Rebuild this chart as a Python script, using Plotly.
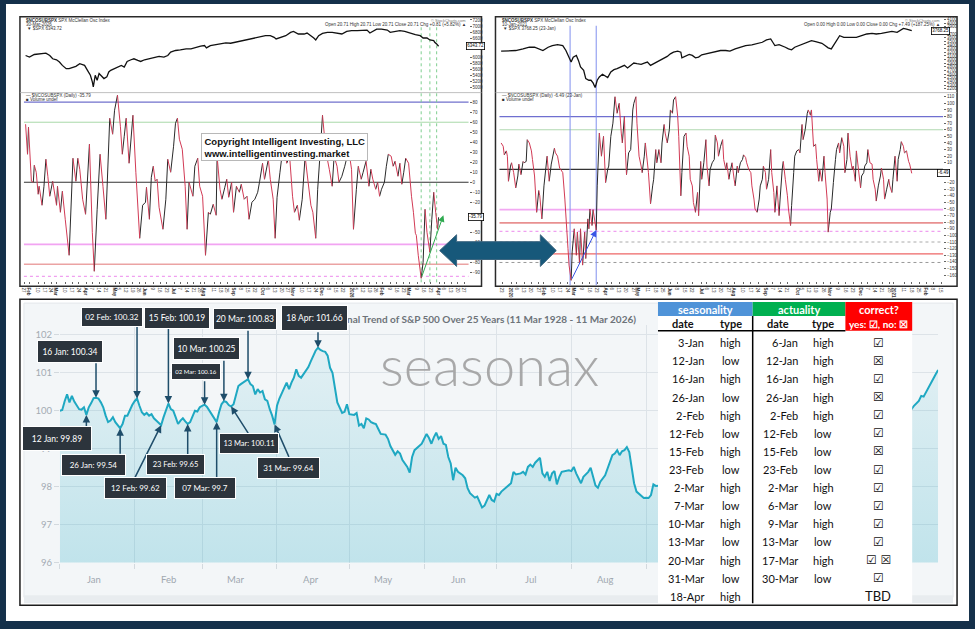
import plotly.graph_objects as go
import pandas as pd

W, H = 975, 629
def px(x): return x / W
def py(y): return 1 - y / H

# ======================= DATA =======================
# --- Left StockCharts panel: SPX (top) and McClellan oscillator (bottom), days since base date
left_base = "2025-01-28"
left_price_day = [0,4,9,14,21,25,28,32,35,38, 42,45,49,52,56,61,64,67,69,70,
                  72,74,76,79,81,84,86,88,92,95, 99,102,105,109,112,116,119,123,128,133,
                  138,143,147,150,155,160,166,171,176,181, 185,187,191,197,202,207,212,217,222,227,
                  233,238,243,248,253,257,259,264,269,274, 277,282,288,291,295,298,300,303,307,312,
                  317,322,327,332,337,343,348,353,356,360, 363,368,374,377,382,387,392,398,403,408,
                  411,415,418,422,423,425,427]
left_price = [6050,5997,6082,6104,6125,6050,5943,5911,5836,5729, 5622,5622,5676,5697,5783,5729,5569,5408,5194,5034,
              5408,5248,5462,5376,5301,5355,5515,5569,5622,5676, 5729,5676,5857,5911,5943,5890,5857,5911,5943,5964,
              6018,5997,6050,6157,6211,6232,6264,6264,6318,6350, 6371,6296,6371,6403,6425,6457,6446,6478,6510,6553,
              6585,6617,6639,6692,6692,6639,6585,6639,6692,6799, 6831,6746,6746,6778,6692,6617,6553,6692,6767,6799,
              6799,6778,6746,6831,6853,6853,6874,6874,6778,6853, 6906,6906,6874,6799,6831,6853,6831,6767,6724,6692,
              6617,6617,6553,6532,6478,6425,6350]
left_osc_day = [0,2,3,6,8,9,11,13,14,17, 19,21,23,25,28,32,33,36,38,41,
                45,49,52,54,56,59,62,66,69,71, 74,77,80,83,87,90,92,95,98,100,
                102,104,107,111,114,118,121,124,125,128, 130,132,134,136,138,142,145,147,150,153,
                155,157,159,162,165,167,169,173,175,178, 180,183,186,189,191,194,197,198,201,203,
                206,208,210,213,215,218,221,223,226,229, 231,234,237,240,242,245,247,251,253,256,
                258,260,263,265,268,270,273,276,278,281, 283,286,289,292,295,297,300,302,305,307,
                309,312,314,317,319,322,324,327,330,332, 334,337,339,342,344,347,349,352,355,357,
                359,362,364,366,368,371,373,375,378,380, 382,385,387,389,391,393,396,399,401,403,
                404,406,409,411,413,415,418,420,422,424, 426,427]
left_osc = [58,28,55,1,0,17,10,-12,-4,-23, -4,23,6,-14,1,-23,-4,-30,-9,-37,
            -73,24,1,24,13,-17,-32,38,-50,-89, -27,28,-4,-37,64,48,72,87,56,28,
            46,64,19,67,10,-56,-23,-20,-5,-37, 5,16,1,3,-25,-47,-17,23,10,36,
            59,64,43,33,-4,-47,0,-14,16,24, -4,-14,-73,-30,-32,-22,-33,26,-7,-17,
            -5,3,-15,0,-30,-4,-10,-2,-17,-14, -37,-20,-17,-10,1,19,3,23,3,-17,
            -56,-15,10,26,33,19,26,-14,-30,-23, -38,-17,26,1,-23,-30,-56,-7,36,67,
            46,23,13,-4,26,16,0,6,16,24, 33,13,-47,-7,16,3,10,21,-4,13,
            3,-7,0,-14,-7,0,16,28,26,16, 21,6,19,-2,10,24,19,-14,-30,-51,
            -53,-73,-96,-80,-27,-50,-70,-37,-10,-30, -47,-35]
left_levels = [80, 60, 0, -62, -82, -94]
left_marker_day = [409, 418, 425]
left_trend_day = [409, 432]
left_trend_val = [-96, -33]

# --- Right StockCharts panel (2020)
right_base = "2019-12-22"
right_price_day = [0,8,14,21,27,32,37,40,45,49, 54,59,62,65,67,69,72,74,76,79,
                   81,84,86,88,90,92,94,97,100,102, 105,108,111,115,118,121,124,127,130,134,
                   137,140,143,146,149,153,156,159,162,165, 169,172,173,177,180,183,186,189,192,196,
                   200,205,210,215,219,224,229,234,240,245, 250,254,258,260,262,266,269,272,275,278,
                   281,285,289,294,297,301,304,307,310,313, 316,318,321,324,328,331,336,340,345,350,
                   355,359,364,369,374,379,382,385,388,391, 393]
right_price = [3230,3248,3248,3293,3338,3338,3293,3248,3338,3384, 3411,3384,3248,3067,2932,3067,3113,2977,2797,2706,
               2480,2435,2435,2363,2237,2435,2526,2598,2544,2508, 2661,2724,2751,2797,2842,2769,2842,2905,2887,2869,
               2905,2932,2842,2887,2932,2977,3022,3086,3158,3203, 3230,3203,3049,3113,3140,3113,3049,3067,3131,3158,
               3185,3203,3248,3248,3230,3293,3338,3384,3402,3447, 3474,3537,3564,3474,3384,3411,3384,3338,3293,3266,
               3338,3384,3429,3474,3519,3492,3474,3447,3384,3320, 3293,3384,3519,3654,3609,3609,3591,3609,3654,3700,
               3718,3700,3718,3745,3772,3745,3808,3853,3835,3808, 3790]
right_osc_day = [0,2,3,5,6,7,9,10,12,14, 16,17,19,21,22,24,25,27,29,30,
                 32,34,36,37,39,41,44,46,48,51, 52,54,56,57,59,61,64,65,67,68,
                 70,72,73,75,76,78,80,81,83,84, 85,87,88,91,92,94,96,98,100,102,
                 103,105,107,109,111,113,115,116,118,119, 120,122,124,126,127,129,130,132,134,135,
                 137,138,141,143,145,146,148,149,151,153, 154,156,157,159,161,162,164,165,167,169,
                 170,172,173,175,177,178,180,181,183,184, 186,188,189,191,192,194,196,197,199,200,
                 202,204,205,207,208,210,212,213,215,216, 218,219,221,223,224,226,227,229,231,232,
                 234,235,237,239,240,242,243,245,247,248, 250,251,253,254,256,258,259,261,262,264,
                 266,267,269,270,272,274,275,277,278,280, 281,283,285,286,288,289,291,293,294,296,
                 297,299,301,302,304,305,307,309,310,312, 313,315,316,318,320,321,323,324,326,328,
                 329,331,332,334,336,337,339,340,342,344, 345,347,348,350,351,353,355,356,358,359,
                 361,363,364,366,367,369,371,372,374,375, 377,379,380,382,383,385,386,388,390,391,
                 393]
right_osc = [40,35,22,28,20,-18,5,10,-5,-28, -10,8,-8,12,10,12,45,40,28,15,
             -10,-65,-32,-40,-75,-25,20,-18,8,32, 25,20,2,0,-5,-45,-120,-145,-168,-125,
             -90,-130,-95,-142,-90,-145,-95,-135,-75,-90, -60,-85,-61,-92,-25,55,20,50,-20,0,
             5,50,70,110,85,100,55,40,80,25, -8,25,30,90,100,110,70,20,5,-5,
             20,40,-5,-52,-25,-15,30,10,30,10, 40,68,55,40,60,90,85,105,110,80,
             50,-40,-5,50,55,35,20,-15,-25,-50, -65,-35,-70,12,-15,10,45,5,-25,0,
             10,15,52,40,20,35,45,15,0,10, -15,-5,10,-15,-25,5,-5,10,15,22,
             18,10,0,-5,-25,-45,-60,-65,-45,-25, -15,5,-5,-30,-15,30,-5,-35,-65,-25,
             -70,-45,0,12,-15,-40,-60,-85,-55,-5, 20,28,30,25,68,45,60,85,90,82,
             90,35,38,15,-18,0,-18,20,-5,-45, -95,-65,-60,-20,15,30,40,25,48,35,
             -5,15,55,20,0,5,-18,28,0,-28, -10,-5,5,10,30,10,8,-15,-30,-48,
             -25,-10,2,-15,-45,-30,-15,-25,-35,-15, 20,-18,15,30,42,35,25,28,12,8,
             -6]
right_levels = [80, 60, 0, -61, -81, -94, -110, -128, -141]
right_marker_day = [66, 91]
right_trend_day = [67, 91]
right_trend_val = [-168, -92]

# --- Seasonax: seasonal trend of S&P 500 (indexed to 100)
seas_md = ["01-01","01-02","01-03","01-04","01-05","01-06","01-07","01-08","01-09","01-10",
           "01-11","01-12","01-13","01-14","01-15","01-16","01-17","01-18","01-19","01-20",
           "01-21","01-22","01-23","01-24","01-25","01-26","01-27","01-28","01-29","01-30",
           "01-31","02-01","02-02","02-03","02-04","02-05","02-06","02-07","02-08","02-09",
           "02-10","02-11","02-12","02-13","02-14","02-15","02-16","02-17","02-18","02-19",
           "02-20","02-21","02-22","02-23","02-24","02-25","02-26","02-27","02-28","03-01",
           "03-02","03-03","03-04","03-05","03-06","03-07","03-08","03-09","03-10","03-11",
           "03-12","03-13","03-14","03-15","03-16","03-17","03-18","03-19","03-20","03-21",
           "03-22","03-23","03-24","03-25","03-26","03-27","03-28","03-29","03-30","03-31",
           "04-01","04-02","04-03","04-04","04-05","04-06","04-07","04-08","04-09","04-10",
           "04-11","04-12","04-13","04-14","04-15","04-16","04-17","04-18","04-19","04-20",
           "04-21","04-22","04-23","04-24","04-25","04-26","04-28","04-29","04-30","05-01",
           "05-03","05-04","05-05","05-06","05-07","05-08","05-09","05-10","05-11","05-12",
           "05-13","05-14","05-16","05-17","05-18","05-20","05-21","05-22","05-23","05-25",
           "05-26","05-27","05-28","05-30","05-31","06-01","06-02","06-03","06-04","06-05",
           "06-06","06-07","06-08","06-09","06-10","06-11","06-12","06-13","06-14","06-15",
           "06-17","06-18","06-19","06-20","06-22","06-23","06-24","06-25","06-26","06-27",
           "06-28","06-29","06-30","07-01","07-02","07-03","07-04","07-06","07-07","07-08",
           "07-09","07-11","07-12","07-13","07-14","07-15","07-16","07-17","07-19","07-20",
           "07-21","07-22","07-23","07-24","07-25","07-26","07-27","07-28","07-30","07-31",
           "08-01","08-02","08-03","08-05","08-06","08-08","08-09","08-10","08-11","08-12",
           "08-13","08-15","08-16","08-17","08-18","08-19","08-20","08-21","08-22","08-23",
           "08-24","08-25","08-26","08-27","08-28","08-30","08-31","09-01","09-02","09-03",
           "09-04","09-05","09-07","09-12","09-17","09-22","09-27","10-02","10-08","10-13",
           "10-18","10-23","10-28","11-02","11-07","11-12","11-17","11-22","11-27","12-02",
           "12-07","12-12","12-17","12-20","12-21","12-23","12-24","12-25","12-26","12-28",
           "12-29","12-30","12-31"]
seas_val = [100.00,100.02,100.25,100.43,100.22,100.39,100.24,100.12,100.04,100.03,
            100.09,99.89,100.09,100.20,100.33,100.34,100.32,100.22,100.09,99.87,
            99.70,99.74,99.83,99.70,99.62,99.54,99.65,99.87,99.87,100.02,
            100.15,100.25,100.32,100.13,99.96,99.89,99.94,99.87,99.91,99.80,
            99.74,99.68,99.62,99.83,100.00,100.19,100.04,100.00,99.83,99.65,
            99.74,99.80,99.72,99.65,99.70,99.87,100.00,99.98,100.09,100.13,
            100.16,100.10,100.00,99.91,99.80,99.70,99.96,100.17,100.25,100.23,
            100.15,100.11,100.17,100.43,100.65,100.70,100.74,100.78,100.83,100.70,
            100.65,100.43,100.57,100.48,100.52,100.30,100.26,100.04,99.87,99.64,
            100.13,100.32,100.48,100.60,100.74,100.57,100.74,100.87,101.09,100.92,
            100.87,100.96,101.04,101.15,101.30,101.45,101.58,101.66,101.60,101.57,
            101.55,101.45,101.13,101.00,100.65,100.22,99.94,99.97,100.17,99.91,
            99.89,99.94,99.61,99.65,99.54,99.80,99.77,99.70,99.67,99.65,
            99.52,99.39,99.37,99.26,99.07,98.84,98.93,98.87,98.70,98.52,
            98.37,98.78,98.96,99.09,99.13,99.26,99.39,99.28,99.13,99.30,
            99.42,99.26,99.33,99.13,99.10,98.78,98.61,98.17,98.50,98.39,
            98.30,98.22,97.96,97.83,97.71,97.74,97.58,97.45,97.50,97.65,
            97.78,97.65,97.61,97.81,97.78,97.87,97.93,98.04,98.09,98.39,
            98.32,98.35,98.39,98.32,98.52,98.58,98.52,98.63,98.76,98.35,
            98.26,98.39,98.15,98.35,98.41,98.06,98.26,98.39,98.41,98.43,
            98.41,98.52,98.35,98.09,98.26,98.39,98.50,98.26,98.03,97.97,
            98.13,98.30,98.48,98.70,98.83,98.87,98.96,98.83,98.93,98.96,
            99.04,98.91,98.52,98.09,97.87,97.74,97.70,97.71,97.70,97.78,
            98.06,98.02,98.03,97.85,97.55,97.30,97.15,97.35,97.60,97.25,
            97.50,97.85,97.65,98.05,98.50,98.85,99.10,99.05,99.40,99.55,
            99.70,99.62,99.85,100.04,100.13,100.26,100.39,100.37,100.48,100.70,
            100.84,100.96,101.07]
seas_month_labels = ["Jan", "Feb", "Mar", "Apr", "May", "Jun", "Jul", "Aug"]
callout_md = ["01-16","02-02","02-15","03-20","04-18","03-10","03-02",
              "01-12","01-26","02-12","02-23","03-07","03-13","03-31"]
callout_val = [100.34,100.32,100.19,100.83,101.66,100.25,100.16,
               99.89,99.54,99.62,99.65,99.7,100.11,99.64]

# --- Table
tbl_seas_date = ["3-Jan","12-Jan","16-Jan","26-Jan","2-Feb","12-Feb","15-Feb","23-Feb",
                 "2-Mar","7-Mar","10-Mar","13-Mar","20-Mar","31-Mar","18-Apr"]
tbl_seas_type = ["high","low","high","low","high","low","high","low",
                 "high","low","high","low","high","low","high"]
tbl_act_date = ["6-Jan","12-Jan","16-Jan","26-Jan","2-Feb","12-Feb","15-Feb","23-Feb",
                "2-Mar","6-Mar","9-Mar","13-Mar","17-Mar","30-Mar",""]
tbl_act_type = ["high","high","high","high","high","low","low","low",
                "high","low","high","low","high","low",""]
tbl_correct = ["☑","☒","☑","☒","☑","☑","☒","☑","☑","☑","☑","☑","☑ ☒","☑","TBD"]

# ======================= BUILD =======================
def to_dates(base, days):
    return list(pd.Timestamp(base) + pd.to_timedelta(days, unit="D"))

def split_updown(xs, ys):
    ux, uy, dx, dy = [], [], [], []
    for i in range(len(xs) - 1):
        if ys[i + 1] >= ys[i]:
            ux += [xs[i], xs[i + 1], None]; uy += [ys[i], ys[i + 1], None]
        else:
            dx += [xs[i], xs[i + 1], None]; dy += [ys[i], ys[i + 1], None]
    return ux, uy, dx, dy

fig = go.Figure()

OSC_UP, OSC_DN = "#2a2a2a", "#d23a55"
for side, base, pd_, pv, od, ov, xa, ya, xa2, ya2 in [
    ("L", left_base, left_price_day, left_price, left_osc_day, left_osc, "x", "y", "x2", "y2"),
    ("R", right_base, right_price_day, right_price, right_osc_day, right_osc, "x3", "y3", "x4", "y4")]:
    fig.add_trace(go.Scatter(x=to_dates(base, pd_), y=pv, mode="lines",
                             line=dict(color="#111111", width=1.3), xaxis=xa, yaxis=ya,
                             hoverinfo="skip"))
    ux, uy, dx, dy = split_updown(to_dates(base, od), ov)
    fig.add_trace(go.Scatter(x=ux, y=uy, mode="lines", line=dict(color=OSC_UP, width=1),
                             xaxis=xa2, yaxis=ya2, hoverinfo="skip"))
    fig.add_trace(go.Scatter(x=dx, y=dy, mode="lines", line=dict(color=OSC_DN, width=1),
                             xaxis=xa2, yaxis=ya2, hoverinfo="skip"))

seas_dates = pd.to_datetime(["2026-" + m for m in seas_md])
fig.add_trace(go.Scatter(
    x=seas_dates, y=seas_val, mode="lines", xaxis="x5", yaxis="y5",
    line=dict(color="#1fa8c2", width=2), fill="tozeroy",
    fillgradient=dict(type="vertical", start=96, stop=102,
                      colorscale=[[0, "rgba(31,168,194,0.24)"], [1, "rgba(31,168,194,0.07)"]]),
    hoverinfo="skip"))

# ---- tick helpers for StockCharts axes
def stock_ticks(start, end):
    vals, txt = [], []
    months = pd.date_range(start, end, freq="MS")
    for m in months:
        vals.append(m); txt.append("<b>%s</b>" % (m.strftime("%Y") if m.month == 1 else m.strftime("%b")))
    for d in pd.date_range(start, end, freq="W-MON"):
        if min(abs((d - m).days) for m in months) >= 4:
            vals.append(d); txt.append(str(d.day))
    return vals, txt

def value_ticks(rng, step, tag_value, gap):
    """Tick values across the range, leaving room for the last-value tag."""
    lo = int(rng[0] // step + 1) * step
    out, v = [], lo
    while v <= rng[1]:
        if abs(v - tag_value) > gap:
            out.append(v)
        v += step
    return out

L_XR = [pd.Timestamp("2025-01-26 07:00"), pd.Timestamp("2026-05-01")]
R_XR = [pd.Timestamp("2019-12-20 10:00"), pd.Timestamp("2021-02-17")]
ltv, ltt = stock_ticks("2025-01-27", "2026-04-30")
rtv, rtt = stock_ticks("2019-12-21", "2021-02-16")

L_PR, L_OR = [4862, 7270], [-99, 89.1]
R_PR, R_OR = [2110, 4142], [-169.5, 115.5]

small = dict(family="Liberation Sans", size=4.5, color="#333")
def yax_small(dom, rng, anchor, tickvals):
    return dict(domain=dom, range=rng, anchor=anchor, side="right", tickmode="array",
                tickvals=tickvals, tickfont=small, ticks="outside", ticklen=2, tickcolor="#666",
                showgrid=False, zeroline=False, showline=False, fixedrange=True)
def xax_small(dom, rng, anchor, tv=None, tt=None, visible=True):
    d = dict(domain=dom, range=rng, anchor=anchor, type="date", showgrid=False,
             zeroline=False, showline=False, visible=visible, tickfont=small,
             ticks="outside", ticklen=2, tickcolor="#666")
    if tv is not None:
        d.update(tickmode="array", tickvals=tv, ticktext=tt)
    return d

LX = [px(21), px(467)]
RX = [px(498), px(943)]
PRICE_Y = [py(92), py(17)]
OSC_Y = [py(283), py(93)]

fig.update_layout(
    width=W, height=H, autosize=False, margin=dict(l=0, r=0, t=0, b=0),
    paper_bgcolor="#14304a", plot_bgcolor="rgba(0,0,0,0)", showlegend=False,
    xaxis=xax_small(LX, L_XR, "y", visible=False),
    yaxis=yax_small(PRICE_Y, L_PR, "x", value_ticks(L_PR, 200, left_price[-1], 190)),
    xaxis2=xax_small(LX, L_XR, "y2", ltv, ltt),
    yaxis2=yax_small(OSC_Y, L_OR, "x2", value_ticks(L_OR, 10, left_osc[-1], 6)),
    xaxis3=xax_small(RX, R_XR, "y3", visible=False),
    yaxis3=yax_small(PRICE_Y, R_PR, "x3", value_ticks(R_PR, 100, right_price[-1], 80)),
    xaxis4=xax_small(RX, R_XR, "y4", rtv, rtt),
    yaxis4=yax_small(OSC_Y, R_OR, "x4", value_ticks(R_OR, 10, right_osc[-1], 8)),
    xaxis5=dict(domain=[px(57), px(938)], anchor="y5", type="date",
                range=["2026-01-01", "2026-12-31"], dtick="M1", tick0="2026-01-01",
                showticklabels=False, showgrid=True, gridcolor="#dde3e8",
                gridwidth=1, ticks="outside", ticklen=5, tickcolor="#d3d9de",
                zeroline=False, showline=False),
    yaxis5=dict(domain=[py(567), py(327.4)], anchor="x5", range=[96, 102.25],
                tickvals=[96, 97, 98, 99, 100, 101, 102], showgrid=True, gridcolor="#dde3e8",
                ticks="outside", ticklen=5, tickcolor="#d3d9de", zeroline=False,
                tickfont=dict(family="Lato", size=9.5, color="#a3abb3")),
)

# ======================= SHAPES =======================
shapes = []
def rect(x0, y0, x1, y1, fill, line=None, lw=0, layer="below"):
    shapes.append(dict(type="rect", xref="paper", yref="paper", x0=px(x0), x1=px(x1),
                       y0=py(y1), y1=py(y0), fillcolor=fill, layer=layer,
                       line=dict(color=line or fill, width=lw)))
def seg(x0, y0, x1, y1, color, w=1, dash="solid", layer="below"):
    shapes.append(dict(type="line", xref="paper", yref="paper", x0=px(x0), x1=px(x1),
                       y0=py(y0), y1=py(y1), layer=layer, line=dict(color=color, width=w, dash=dash)))

rect(3, 3, 969, 626, "#ffffff")
rect(17, 16, 480, 288, "#ffffff", "#2a2a2a", 1.5)
rect(494, 16, 957, 288, "#ffffff", "#2a2a2a", 1.5)
seg(17, 92.5, 480, 92.5, "#b0b0b0", 0.8)
seg(494, 92.5, 957, 92.5, "#b0b0b0", 0.8)
rect(17, 301, 957, 610, "#ffffff", "#1c1c1c", 1.5)
rect(21, 305, 953, 602, "#f3f6f8", "#e3e7eb", 1)
rect(21, 600, 953, 608, "#e8ecef")

left_style = [("#7070cc", 1.2, "solid"), ("#a8d8a8", 1, "solid"), ("#333333", 1.2, "solid"),
              ("#f2a4f2", 1.8, "solid"), ("#eba3a3", 1.5, "solid"), ("#f0a0f0", 1.2, "dot")]
right_style = [("#6f6fd0", 1.2, "solid"), ("#b0d8b0", 1, "solid"), ("#333333", 1.2, "solid"),
               ("#f2a8f2", 1.8, "solid"), ("#e89090", 1.8, "solid"), ("#f0a0f0", 1.2, "dot"),
               ("#aaaaaa", 1, "dot"), ("#ee6666", 1.2, "solid"), ("#999999", 1, "dot")]
for lv, (c, w, d) in zip(left_levels, left_style):
    shapes.append(dict(type="line", xref="x2 domain", yref="y2", x0=0, x1=1, y0=lv, y1=lv,
                       layer="below", line=dict(color=c, width=w, dash=d)))
for lv, (c, w, d) in zip(right_levels, right_style):
    shapes.append(dict(type="line", xref="x4 domain", yref="y4", x0=0, x1=1, y0=lv, y1=lv,
                       layer="below", line=dict(color=c, width=w, dash=d)))
for d in to_dates(left_base, left_marker_day):
    shapes.append(dict(type="line", xref="x2", yref="paper", x0=d, x1=d, y0=py(284), y1=py(25),
                       layer="below", line=dict(color="#7fcf90", width=1, dash="dot")))
for d in to_dates(right_base, right_marker_day):
    shapes.append(dict(type="line", xref="x4", yref="paper", x0=d, x1=d, y0=py(287), y1=py(25),
                       layer="below", line=dict(color="#8090ee", width=1)))

# double-headed arrow between the two upper charts
pts = [(438, 252), (455, 236), (455, 243), (539, 243), (539, 236), (555, 252),
       (539, 268), (539, 261), (455, 261), (455, 268)]
path = "M " + " L ".join("%f,%f" % (px(a), py(b)) for a, b in pts) + " Z"
shapes.append(dict(type="path", xref="paper", yref="paper", path=path, layer="above",
                   fillcolor="#17587a", line=dict(color="#3d6680", width=1)))

# table (covers the rest of the seasonal chart)
rect(657, 304, 912, 608, "#ffffff", layer="above")
rect(657, 304, 752, 318, "#4f93d8", layer="above")
rect(752, 304, 845, 318, "#00b050", layer="above")
rect(845, 304, 912, 333, "#ff0000", layer="above")
seg(657, 333, 845, 333, "#000000", 1.5, layer="above")
seg(752, 318, 752, 608, "#000000", 1.5, layer="above")

fig.update_layout(shapes=shapes)

# ======================= ANNOTATIONS =======================
ann = []
def txt(x, y, s, size=4.5, color="#333", xanchor="left", yanchor="middle", family="Liberation Sans", **kw):
    ann.append(dict(xref="paper", yref="paper", x=px(x), y=py(y), text=s, showarrow=False,
                    xanchor=xanchor, yanchor=yanchor, font=dict(family=family, size=size, color=color), **kw))

# tiny StockCharts headers
for x0, x1, date_s, spx_s, chg_s, osc_s in [
        (21, 466, "30-Mar-2026", "▼ $SPX 6343.72", "Open 20.71 High 20.71 Low 20.71 Close 20.71 Chg +0.81 (+5.82%) ▲", "— $NCOSUBSPX (Daily) -35.79"),
        (499, 942, "10-Jan-2021", "▼ $SPX 3768.25 (23-Jan)", "Open 0.00 High 0.00 Low 0.00 Close 0.00 Chg +7.49 (+187.25%) ▲", "— $NCOSUBSPX (Daily) -6.49 (23-Jan)")]:
    txt(x0, 19.5, "<b>$NCOSUBSPX</b> SPX McClellan Osc Index", 4.5)
    txt(x0, 23.5, date_s, 4.5)
    txt(x0 + 1, 27.5, spx_s, 4.5)
    txt(x1, 19.5, "© StockCharts.com", 4, "#777", xanchor="right")
    txt(x1, 23.5, chg_s, 4.5, xanchor="right")
    txt(x0, 95.5, osc_s, 4.5)
    txt(x0, 99, "■ Volume undef", 4.5)

# last-value tags on the right axes
for xr, yref, val, lab in [(474, "y", left_price[-1], "6343.72"), (474, "y2", left_osc[-1], "-35.79"),
                           (950, "y3", right_price[-1], "3768.25"), (950, "y4", right_osc[-1], "-6.49")]:
    ann.append(dict(xref="paper", yref=yref, x=px(xr), y=val, text=lab, showarrow=False,
                    font=dict(family="Liberation Sans", size=4.5, color="#000"),
                    bgcolor="#ffffff", bordercolor="#000", borderwidth=0.8, borderpad=0.5))

# trend arrows
for xr, yr, base, days, vals, col in [("x2", "y2", left_base, left_trend_day, left_trend_val, "#2faa50"),
                                      ("x4", "y4", right_base, right_trend_day, right_trend_val, "#3b55e6")]:
    d0, d1 = to_dates(base, days)
    ann.append(dict(xref=xr, yref=yr, axref=xr, ayref=yr, x=d1, y=vals[1], ax=d0, ay=vals[0],
                    text="", showarrow=True, arrowhead=2, arrowsize=1.3, arrowwidth=1, arrowcolor=col))

# copyright box
txt(199, 133, "<b>Copyright Intelligent Investing, LLC<br>www.intelligentinvesting.market</b>", 9.5, "#111",
    yanchor="top", align="left", bgcolor="#ffffff", bordercolor="#b8b8b8", borderwidth=1, borderpad=1.5)

# seasonax month labels (only Jan-Aug are outside the table)
for i, m in enumerate(seas_month_labels):
    ann.append(dict(xref="x5", yref="paper", x="2026-%02d-15" % (i + 1), y=py(584), text=m,
                    showarrow=False, xanchor="center", yanchor="middle",
                    font=dict(family="Lato", size=9.5, color="#a0a8b0")))

# seasonax watermark and title
ann.append(dict(xref="paper", yref="paper", x=px(488), y=py(367), text="seasonax", showarrow=False,
                xanchor="center", yanchor="middle",
                font=dict(family="Lato", size=56, color="rgba(160,160,160,0.9)", weight=300)))
txt(637, 321, "<b>Seasonal Trend of S&P 500 Over 25 Years (11 Mar 1928 - 11 Mar 2026)</b>", 10, "#6d7379",
    xanchor="right", family="Lato")

# callouts: box geometry (center x, center y, width, height, font size, arrow tail dx, dy)
callout_box = [(67, 354, 64, 21, 8.5, 0, -36), (109, 319, 60, 18, 8, 0, -73), (175, 320, 64, 20, 8.5, 0, -76),
               (243, 321, 62, 20, 8.5, 0, -50), (312, 320, 65, 24, 8.5, 0, -17), (204.5, 350.5, 65, 21, 8.5, 0, -42),
               (194, 374.5, 48, 15, 6, 0, -25), (54, 441.5, 68, 23, 8.5, 0, 13), (90.5, 468, 63, 20, 8, 0, 27),
               (132.5, 492, 61, 20, 8, -27, 54), (173.5, 467.5, 57, 19, 7.5, 0, 32), (203, 492, 60, 20, 8, 0, 57),
               (247, 446.5, 58, 19, 7.5, 18, 28), (286.5, 471, 61, 20, 8, 15, 34)]
for md, v, (cx, cy, w, h, fs, dx, dy) in zip(callout_md, callout_val, callout_box):
    ann.append(dict(xref="x5", yref="y5", x="2026-" + md, y=v, ax=dx, ay=dy, text="",
                    showarrow=True, arrowhead=2, arrowsize=1, arrowwidth=1.5, arrowcolor="#1f4d6a"))
for md, v, (cx, cy, w, h, fs, dx, dy) in zip(callout_md, callout_val, callout_box):
    label = pd.Timestamp("2026-" + md).strftime("%d %b") + ": " + f"{v:g}"
    ann.append(dict(xref="paper", yref="paper", x=px(cx), y=py(cy), text=label, showarrow=False,
                    xanchor="center", yanchor="middle", width=w, height=h,
                    font=dict(family="Lato", size=fs, color="#ffffff"),
                    bgcolor="#2c343c", bordercolor="#ffffff", borderwidth=1, borderpad=0))

# table text
TF = "Lato"
txt(704.5, 311, "<b>seasonality</b>", 11, "#ffffff", xanchor="center", family=TF)
txt(798.5, 311, "<b>actuality</b>", 11, "#ffffff", xanchor="center", family=TF)
txt(878.5, 311.5, "<b>correct?</b>", 11, "#ffffff", xanchor="center", family=TF)
txt(682, 326, "<b>date</b>", 11, "#111", xanchor="center", family=TF)
txt(730, 326, "<b>type</b>", 11, "#111", xanchor="center", family=TF)
txt(777, 326, "<b>date</b>", 11, "#111", xanchor="center", family=TF)
txt(823, 326, "<b>type</b>", 11, "#111", xanchor="center", family=TF)
txt(878.5, 326.5, "<b>yes: ☑, no: ☒</b>", 10, "#ffffff", xanchor="center", family=TF)
for i in range(len(tbl_seas_date)):
    yy = 345 + i * 18.29
    txt(705, yy, tbl_seas_date[i], 11, "#111", xanchor="right", family=TF)
    txt(730, yy, tbl_seas_type[i], 11, "#111", xanchor="center", family=TF)
    txt(799, yy, tbl_act_date[i], 11, "#111", xanchor="right", family=TF)
    txt(823, yy, tbl_act_type[i], 11, "#111", xanchor="center", family=TF)
    is_tbd = tbl_correct[i] == "TBD"
    txt(878, yy, tbl_correct[i], 13 if is_tbd else 12, "#111", xanchor="center",
        family=TF if is_tbd else "DejaVu Sans")

fig.update_layout(annotations=ann)
fig.write_html("out.html")
